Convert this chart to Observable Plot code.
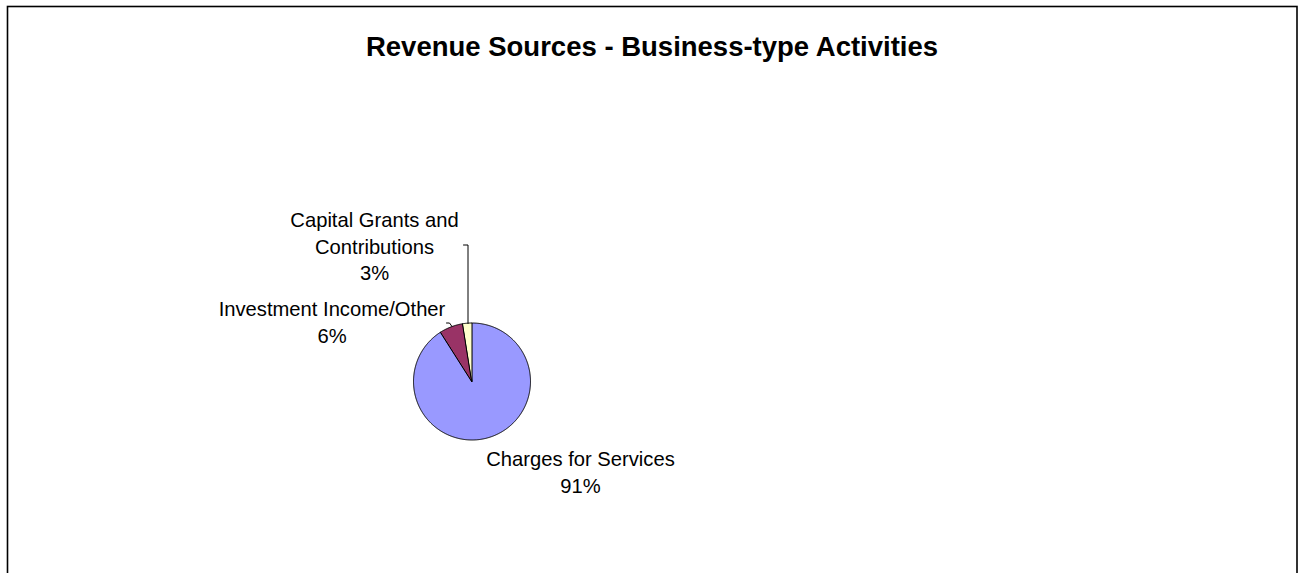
<!DOCTYPE html>
<html>
<head>
<meta charset="utf-8">
<script src="https://cdn.jsdelivr.net/npm/d3@7"></script>
<script src="https://cdn.jsdelivr.net/npm/@observablehq/plot@0.6"></script>
<style>
  html, body { margin: 0; padding: 0; background: #fff; overflow: hidden; }
  #chart svg { display: block; }
</style>
</head>
<body>
<div id="chart"></div>
<script>
// ---- Data ----
const title = "Revenue Sources - Business-type Activities";
const categories = ["Charges for Services", "Investment Income/Other", "Capital Grants and Contributions"];
const shares = [91.0, 6.5, 2.5];
const shareLabels = ["91%", "6%", "3%"];
const colors = ["#9999FF", "#993366", "#FFFFCC"];

// ---- Layout ----
const W = 1299, H = 573;
const cx = 472, cy = 381.5, R = 58.5;
const font = "'Liberation Sans', Arial, sans-serif";

// pie angles (clockwise from 12 o'clock, Excel style)
const pie = d3.pie().sort(null).value(d => d.value)(categories.map((c, i) => ({name: c, value: shares[i]})));
const wedgePts = [];
pie.forEach((p, i) => {
  const n = Math.max(4, Math.ceil((p.endAngle - p.startAngle) / 0.01));
  for (let k = 0; k <= n; k++) {
    const a = p.startAngle + (p.endAngle - p.startAngle) * k / n;
    wedgePts.push({name: p.data.name, i, x: cx + R * Math.sin(a), y: cy - R * Math.cos(a)});
  }
});

// labels (lines of text, positioned like the reference)
const labelSpecs = [
  {i: 0, x: 580, y: [465.5, 492]},
  {i: 1, x: 331.5, y: [315.5, 342.5]},
  {i: 2, x: 374, y: [226.5, 253, 279.5]}
];
const labelLines = [];
labelSpecs.forEach(s => {
  let lines;
  if (s.i === 2) lines = ["Capital Grants and", "Contributions", shareLabels[2]];
  else lines = [categories[s.i], shareLabels[s.i]];
  lines.forEach((t, k) => labelLines.push({x: s.x, y: s.y[k], text: t}));
});

const leaders = [
  {id: "cap", pts: [[463, 244.5], [467.5, 244.5], [467.5, 323]]},
  {id: "inv", pts: [[446, 322.5], [449, 322.5], [451.5, 326]]}
].flatMap(l => l.pts.map(p => ({id: l.id, x: p[0], y: p[1]})));

const chart = Plot.plot({
  width: W, height: H,
  margin: 0,
  x: {domain: [0, W], range: [0, W], axis: null},
  y: {domain: [0, H], range: [0, H], axis: null},
  style: {background: "#fff", fontFamily: font},
  marks: [
    // chart border (bottom edge runs below the visible area)
    Plot.rect([0], {x1: 7.5, x2: 1297, y1: 6.5, y2: H + 20, fill: "none", stroke: "#000", strokeWidth: 1.6}),
    Plot.text([title], {x: 651.5, y: 55, text: d => d, fontSize: 27.5, fontWeight: "bold", fill: "#000", lineAnchor: "bottom", fontFamily: font}),
    Plot.area(wedgePts, {
      x1: cx, y1: cy, x2: "x", y2: "y", z: "name",
      fill: d => colors[d.i], stroke: "#000", strokeWidth: 1, curve: "linear"
    }),
    Plot.line(leaders, {x: "x", y: "y", z: "id", stroke: "#000", strokeWidth: 1}),
    Plot.text(labelLines, {x: "x", y: "y", text: "text", fontSize: 20.2, fill: "#000", lineAnchor: "bottom", textAnchor: "middle", fontFamily: font})
  ]
});
document.getElementById("chart").append(chart);
</script>
</body>
</html>
